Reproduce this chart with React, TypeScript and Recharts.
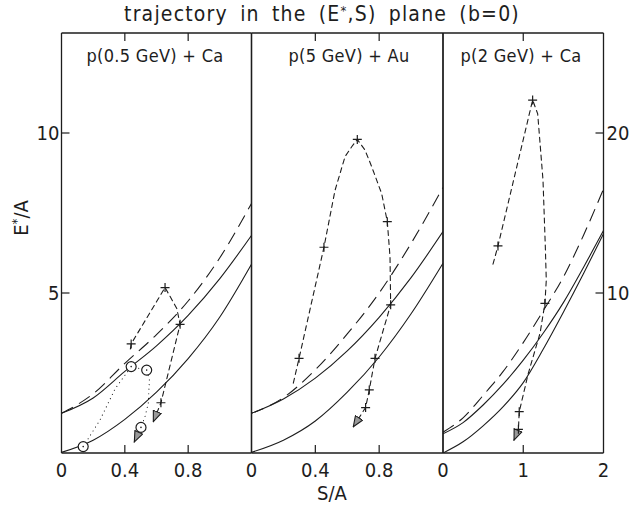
import * as React from 'react'
import { LineChart, Line, XAxis, YAxis } from 'recharts'

const INK = '#1d1d1d'
const FONT = "'Liberation Sans Narrow', 'DejaVu Sans Condensed', 'Liberation Sans', sans-serif"

// shared vertical scales: the right-hand scale is twice the left one
const eDomain: [number, number] = [0, 13.125]
const rDomain: [number, number] = [0, 26.25]
const leftTicks = [5, 10]
const rightTicks = [10, 20]

// panel 1: p(0.5 GeV) + Ca   (S/A, E*/A)
const p1Grid = [0, 0.2, 0.4, 0.6, 0.8, 1.0, 1.2]
const p1UpperE = [1.24, 1.72, 2.55, 3.35, 4.3, 5.45, 6.8]
const p1LowerE = [0.02, 0.4, 1.05, 1.9, 2.95, 4.25, 5.9]
const p1LongE = [1.24, 1.85, 2.8, 3.7, 4.75, 6.1, 7.8]
// [S/A, E*/A, mark]  mark: 1 = plus, 2 = circle
const p1Dashed = [
  [0.435, 3.25, 0], [0.44, 3.41, 1], [0.654, 5.17, 1], [0.728, 4.52, 0],
  [0.749, 4.02, 1], [0.628, 1.57, 1], [0.58, 0.98, 0],
]
const p1Dotted = [
  [0.137, 0.2, 2], [0.243, 1.03, 0], [0.338, 2.0, 0], [0.44, 2.7, 2],
  [0.538, 2.59, 2], [0.555, 2.28, 0], [0.548, 1.55, 0], [0.527, 1.13, 0],
  [0.502, 0.8, 2], [0.46, 0.35, 0],
]

// panel 2: p(5 GeV) + Au
const p2Grid = [0, 0.2, 0.4, 0.6, 0.8, 1.0, 1.2]
const p2UpperE = [1.24, 1.69, 2.34, 3.19, 4.24, 5.48, 6.92]
const p2LowerE = [0.02, 0.4, 1.0, 1.9, 3.0, 4.35, 5.93]
const p2LongE = [1.24, 1.73, 2.6, 3.72, 5.0, 6.55, 8.3]
const p2Dashed = [
  [0.262, 2.18, 0], [0.298, 2.96, 1], [0.454, 6.43, 1], [0.523, 8.2, 0],
  [0.586, 9.26, 0], [0.628, 9.57, 0], [0.663, 9.8, 1], [0.711, 9.47, 0],
  [0.753, 8.95, 0], [0.816, 8.1, 0], [0.851, 7.23, 1], [0.868, 6.13, 0],
  [0.872, 4.63, 1], [0.774, 2.96, 1], [0.738, 1.97, 1], [0.715, 1.42, 1],
  [0.638, 0.82, 0],
]

// panel 3: p(2 GeV) + Ca  (values on the right-hand scale)
const p3Grid = [0, 0.25, 0.5, 0.75, 1.0, 1.25, 1.5, 1.75, 2.0]
const p3UpperR = [1.2, 1.9, 3.0, 4.3, 5.8, 7.5, 9.4, 11.6, 13.9]
const p3LowerR = [0, 0.7, 1.7, 2.9, 4.4, 6.5, 8.8, 11.2, 13.7]
const p3LongR = [1.3, 2.2, 3.6, 5.1, 6.9, 8.9, 11.0, 13.6, 16.5]
const p3Dashed = [
  [0.623, 11.8, 0], [0.685, 12.94, 1], [1.117, 22.06, 1], [1.18, 21.2, 0],
  [1.246, 17.06, 0], [1.275, 12.9, 0], [1.287, 10.8, 0], [1.27, 9.35, 1],
  [1.21, 7.5, 0], [1.063, 4.98, 0], [0.95, 2.58, 1], [0.94, 1.48, 1],
  [0.885, 0.81, 0],
]

const panelEdges = [61.5, 251.5, 443, 603.5]
const PLOT_TOP = 33
const PLOT_BOTTOM = 453
const W = 630
const H = 509

const grid = (xs: number[], ys: number[]) => xs.map((s, i) => ({ s, e: ys[i] }))
const path = (rows: number[][]) => rows.map(([s, e, m]) => ({ s, e, m }))

const markDot = (props: any) => {
  const { cx, cy, payload, index } = props
  if (payload.m === 1) {
    return (
      <path
        key={index}
        d={`M${cx - 4.5},${cy}H${cx + 4.5}M${cx},${cy - 4.5}V${cy + 4.5}`}
        stroke={INK}
        strokeWidth={1.2}
        fill="none"
      />
    )
  }
  if (payload.m === 2) {
    return (
      <g key={index}>
        <circle cx={cx} cy={cy} r={5} fill="#fff" stroke={INK} strokeWidth={1.2} />
        <circle cx={cx} cy={cy} r={0.8} fill={INK} />
      </g>
    )
  }
  return <g key={index} />
}

const bottomTick = (marked: number[]) => (props: any) => {
  const { x, y, payload } = props
  const v = payload.value
  return (
    <g key={`b${v}`}>
      {marked.includes(v) && <line x1={x} x2={x} y1={y} y2={y - 8} stroke={INK} strokeWidth={1.2} />}
      <text x={x} y={y + 24} textAnchor="middle" fontFamily={FONT} fontSize={20} fill={INK}>
        {String(v)}
      </text>
    </g>
  )
}

const topTick = (props: any) => {
  const { x, y, payload } = props
  return <line key={`t${payload.value}`} x1={x} x2={x} y1={y} y2={y + 8} stroke={INK} strokeWidth={1.2} />
}

const leftTick = (props: any) => {
  const { x, y, payload } = props
  return (
    <g key={`l${payload.value}`}>
      <line x1={x} x2={x + 8} y1={y} y2={y} stroke={INK} strokeWidth={1.2} />
      <text x={x - 2} y={y + 7} textAnchor="end" fontFamily={FONT} fontSize={20} fill={INK}>
        {payload.value}
      </text>
    </g>
  )
}

const rightTick = (props: any) => {
  const { x, y, payload } = props
  return (
    <g key={`r${payload.value}`}>
      <line x1={x} x2={x - 8} y1={y} y2={y} stroke={INK} strokeWidth={1.2} />
      <text x={x + 3} y={y + 7} textAnchor="start" fontFamily={FONT} fontSize={20} fill={INK}>
        {payload.value}
      </text>
    </g>
  )
}

const noTick = () => <g />

interface PanelProps {
  index: number
  xDomain: [number, number]
  labels: number[]
  marks: number[]
  yAxis: 'l' | 'r'
  showLeft?: boolean
  showRight?: boolean
  children: React.ReactNode
}

// each panel is a full-size chart whose plot area is placed over its slot of the frame;
// axes are 1px thick so that they render, margins make up for that pixel
function Panel({ index, xDomain, labels, marks, yAxis, showLeft, showRight, children }: PanelProps) {
  const left = panelEdges[index]
  const right = panelEdges[index + 1]
  const axisLine = { stroke: INK, strokeWidth: 1.3 }
  return (
    <LineChart
      width={W}
      height={H}
      margin={{ top: PLOT_TOP - 1, bottom: H - PLOT_BOTTOM - 1, left: left - 1, right: W - right - 1 }}
      style={{ position: 'absolute', left: 0, top: 0 }}
    >
      <XAxis
        xAxisId="b"
        type="number"
        dataKey="s"
        domain={xDomain}
        allowDataOverflow
        ticks={labels}
        interval={0}
        height={1}
        tickSize={0}
        tickMargin={0}
        tickLine={false}
        tick={bottomTick(marks)}
        axisLine={axisLine}
      />
      <XAxis
        xAxisId="t"
        orientation="top"
        type="number"
        dataKey="s"
        domain={xDomain}
        allowDataOverflow
        ticks={marks}
        interval={0}
        height={1}
        tickSize={0}
        tickMargin={0}
        tickLine={false}
        tick={topTick}
        axisLine={axisLine}
      />
      <YAxis
        yAxisId="l"
        type="number"
        domain={eDomain}
        allowDataOverflow
        ticks={showLeft ? leftTicks : [0]}
        interval={0}
        width={1}
        tickSize={0}
        tickMargin={0}
        tickLine={false}
        tick={showLeft ? leftTick : noTick}
        axisLine={axisLine}
      />
      <YAxis
        yAxisId="r"
        orientation="right"
        type="number"
        domain={rDomain}
        allowDataOverflow
        ticks={showRight ? rightTicks : [0]}
        interval={0}
        width={1}
        tickSize={0}
        tickMargin={0}
        tickLine={false}
        tick={showRight ? rightTick : noTick}
        axisLine={axisLine}
      />
      {React.Children.map(children, (c) =>
        React.isValidElement(c) ? React.cloneElement(c as any, { yAxisId: yAxis }) : c,
      )}
    </LineChart>
  )
}

const curveProps = {
  xAxisId: 'b',
  dataKey: 'e',
  stroke: INK,
  strokeWidth: 1.1,
  dot: false,
  activeDot: false,
  isAnimationActive: false,
} as const

const envelope = (key: string, data: any[], dash?: string) => (
  <Line key={key} {...curveProps} data={data} type="monotone" strokeDasharray={dash} />
)

const trajectory = (key: string, data: any[], dash: string) => (
  <Line
    key={key}
    {...curveProps}
    data={data}
    type="linear"
    strokeDasharray={dash}
    strokeLinecap="round"
    dot={markDot}
    markerEnd="url(#arrowHead)"
  />
)

export default function App() {
  return (
    <div style={{ position: 'absolute', left: 0, top: 0, width: W, height: H, background: '#fff' }}>
      <svg width={0} height={0} style={{ position: 'absolute' }}>
        <defs>
          <marker
            id="arrowHead"
            viewBox="0 0 12 10"
            refX={11}
            refY={5}
            markerWidth={12}
            markerHeight={10}
            markerUnits="userSpaceOnUse"
            orient="auto"
          >
            <path d="M0.5,0.8 L11,5 L0.5,9.2 Z" fill="#999" stroke={INK} strokeWidth={1.1} strokeDasharray="none" />
          </marker>
        </defs>
      </svg>

      <Panel index={0} xDomain={[0, 1.2]} labels={[0, 0.4, 0.8]} marks={[0.4, 0.8]} yAxis="l" showLeft>
        {envelope('u', grid(p1Grid, p1UpperE))}
        {envelope('lo', grid(p1Grid, p1LowerE))}
        {envelope('lg', grid(p1Grid, p1LongE), '13 7')}
        {trajectory('dot', path(p1Dotted), '0.1 4.5')}
        {trajectory('tr', path(p1Dashed), '5 4')}
      </Panel>

      <Panel index={1} xDomain={[0, 1.2]} labels={[0, 0.4, 0.8]} marks={[0.4, 0.8]} yAxis="l">
        {envelope('u', grid(p2Grid, p2UpperE))}
        {envelope('lo', grid(p2Grid, p2LowerE))}
        {envelope('lg', grid(p2Grid, p2LongE), '13 7')}
        {trajectory('tr', path(p2Dashed), '5 4')}
      </Panel>

      <Panel index={2} xDomain={[0, 2]} labels={[0, 1, 2]} marks={[1]} yAxis="r" showRight>
        {envelope('u', grid(p3Grid, p3UpperR))}
        {envelope('lo', grid(p3Grid, p3LowerR))}
        {envelope('lg', grid(p3Grid, p3LongR), '13 7')}
        {trajectory('tr', path(p3Dashed), '5 4')}
      </Panel>

      <svg width={W} height={H} style={{ position: 'absolute', left: 0, top: 0, pointerEvents: 'none' }}>
        <text x={322} y={21} textAnchor="middle" fontFamily={FONT} fontSize={21} letterSpacing={1.2} wordSpacing={5} fill={INK}>
          trajectory in the (E<tspan fontSize={13} dy={-6}>*</tspan>
          <tspan dy={6}>,S) plane (b=0)</tspan>
        </text>
        <g fontFamily={FONT} fontSize={18} fill={INK} letterSpacing={0.3}>
          <text x={155} y={62} textAnchor="middle">p(0.5 GeV) + Ca</text>
          <text x={349} y={62} textAnchor="middle">p(5 GeV) + Au</text>
          <text x={521} y={62} textAnchor="middle">p(2 GeV) + Ca</text>
        </g>
        <text x={332} y={500} textAnchor="middle" fontFamily={FONT} fontSize={20} fill={INK}>S/A</text>
        <text
          transform="translate(28,218) rotate(-90)"
          textAnchor="middle"
          fontFamily={FONT}
          fontSize={20}
          fill={INK}
        >
          E<tspan fontSize={13} dy={-7}>*</tspan>
          <tspan dy={7}>/A</tspan>
        </text>
      </svg>
    </div>
  )
}
